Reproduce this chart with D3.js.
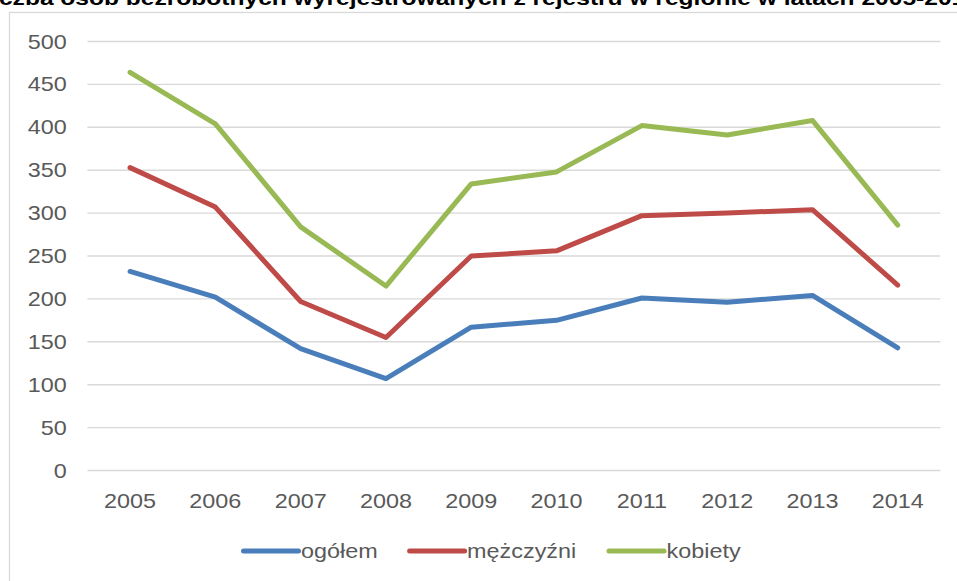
<!DOCTYPE html>
<html>
<head>
<meta charset="utf-8">
<script src="https://cdn.jsdelivr.net/npm/d3@7"></script>
<style>
  html, body { margin: 0; padding: 0; background: #fff; overflow: hidden; }
  svg { display: block; font-family: Arial, "Liberation Sans", sans-serif; }
</style>
</head>
<body>
<svg id="chart" width="957" height="581"></svg>
<script>
const years = ["2005","2006","2007","2008","2009","2010","2011","2012","2013","2014"];
const ogolem = [232, 202, 142, 107, 167, 175, 201, 196, 204, 143];
const mezczyzni = [353, 307, 197, 155, 250, 256, 297, 300, 304, 216];
const kobiety = [464, 404, 284, 215, 334, 348, 402, 391, 408, 286];
const seriesNames = ["ogółem", "mężczyźni", "kobiety"];
const seriesColors = ["#4A7EBB", "#BE4B48", "#98B954"];
const yTicks = [0, 50, 100, 150, 200, 250, 300, 350, 400, 450, 500];
const titleText = "Liczba osób bezrobotnych wyrejestrowanych z rejestru w regionie w latach 2005-2014";

const series = [ogolem, mezczyzni, kobiety];
const svg = d3.select("#chart");
const W = 957, H = 581;
const SX = 1.17;       // horizontal stretch of the text in the reference
const textColor = "#595959";

// outer chart border
svg.append("rect").attr("x", 9.5).attr("y", 12.5).attr("width", W + 20).attr("height", H + 20)
  .attr("fill", "#fff").attr("stroke", "#d9d9d9").attr("stroke-width", 1.3);

// title (cut by the top edge, as in the reference)
svg.append("text")
  .attr("transform", `translate(478,4.5) scale(${SX},1)`)
  .attr("text-anchor", "middle")
  .attr("font-size", 21).attr("font-weight", "bold").attr("fill", "#000")
  .text(titleText);

const x = d3.scaleBand().domain(years).range([87.4, 940.4]);
const y = d3.scaleLinear().domain([0, 500]).range([470.5, 41.5]);

// gridlines
svg.append("g").selectAll("line").data(yTicks).join("line")
  .attr("x1", 87.4).attr("x2", 940.4)
  .attr("y1", d => y(d)).attr("y2", d => y(d))
  .attr("stroke", "#d9d9d9").attr("stroke-width", 1.4);

// y labels
svg.append("g").selectAll("text").data(yTicks).join("text")
  .attr("transform", d => `translate(66.7,${y(d) + 7}) scale(${SX},1)`)
  .attr("text-anchor", "end").attr("font-size", 20).attr("fill", textColor)
  .text(d => d);

// x labels
svg.append("g").selectAll("text").data(years).join("text")
  .attr("transform", d => `translate(${x(d) + x.bandwidth() / 2},508) scale(${SX},1)`)
  .attr("text-anchor", "middle").attr("font-size", 20).attr("fill", textColor)
  .text(d => d);

// lines
const line = d3.line()
  .x((d, i) => x(years[i]) + x.bandwidth() / 2)
  .y(d => y(d));
svg.append("g").selectAll("path").data(series).join("path")
  .attr("d", d => line(d))
  .attr("fill", "none")
  .attr("stroke", (d, i) => seriesColors[i])
  .attr("stroke-width", 5)
  .attr("stroke-linejoin", "round")
  .attr("stroke-linecap", "round");

// legend
const legendX = [243.5, 409.6, 609];
const lg = svg.append("g").selectAll("g").data(seriesNames).join("g")
  .attr("transform", (d, i) => `translate(${legendX[i]},551)`);
lg.append("line").attr("x1", 0).attr("x2", 55).attr("y1", 0).attr("y2", 0)
  .attr("stroke", (d, i) => seriesColors[i]).attr("stroke-width", 5).attr("stroke-linecap", "round");
lg.append("text")
  .attr("transform", `translate(57.5,7) scale(${SX},1)`)
  .attr("font-size", 20).attr("fill", textColor)
  .text(d => d);
</script>
</body>
</html>
